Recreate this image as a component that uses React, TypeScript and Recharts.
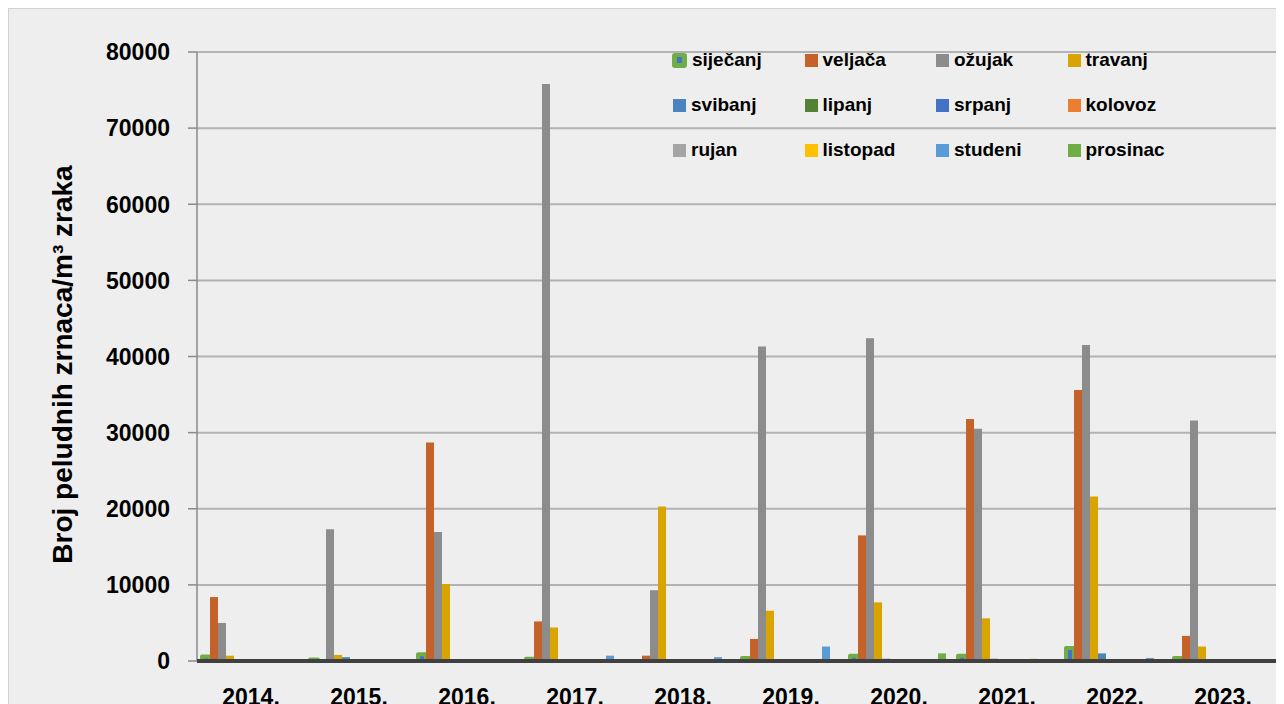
import React from 'react';
import { BarChart, Bar, XAxis, YAxis, CartesianGrid, Legend, Label } from 'recharts';

const years = ['2014.', '2015.', '2016.', '2017.', '2018.', '2019.', '2020.', '2021.', '2022.', '2023.'];

const sijecanj = [600, 200, 900, 300, 0, 400, 700, 700, 1700, 400];
const veljaca = [8400, 200, 28700, 5200, 700, 2900, 16500, 31800, 35600, 3300];
const ozujak = [5000, 17300, 16950, 75800, 9300, 41300, 42400, 30500, 41500, 31600];
const travanj = [700, 800, 10100, 4400, 20300, 6600, 7700, 5600, 21600, 1900];
const svibanj = [0, 500, 200, 0, 0, 0, 300, 300, 1000, 0];
const lipanj = [0, 0, 0, 0, 0, 0, 0, 0, 0, 0];
const srpanj = [0, 0, 0, 0, 0, 0, 0, 0, 0, 0];
const kolovoz = [0, 0, 0, 0, 0, 0, 0, 0, 0, 0];
const rujan = [0, 0, 0, 0, 0, 0, 0, 0, 0, 0];
const listopad = [0, 0, 0, 0, 0, 0, 0, 300, 0, 0];
const studeni = [0, 0, 0, 700, 500, 1900, 0, 0, 400, 0];
const prosinac = [0, 0, 0, 0, 200, 0, 1000, 0, 0, 0];

const yTicks = [0, 10000, 20000, 30000, 40000, 50000, 60000, 70000, 80000];

const seriesNames = ['siječanj', 'veljača', 'ožujak', 'travanj', 'svibanj', 'lipanj', 'srpanj', 'kolovoz', 'rujan', 'listopad', 'studeni', 'prosinac'];
const seriesValues = [sijecanj, veljaca, ozujak, travanj, svibanj, lipanj, srpanj, kolovoz, rujan, listopad, studeni, prosinac];
const seriesColors = ['#4472C4', '#C5622A', '#8C8C8C', '#D9A300', '#4A83BD', '#548235', '#4472C4', '#ED7D31', '#A5A5A5', '#FFC000', '#5B9BD5', '#70AD47'];

const data = years.map((y, i) => {
  const row: Record<string, any> = { year: y };
  seriesNames.forEach((n, s) => {
    row[n] = seriesValues[s][i];
  });
  return row;
});

const FONT = '"Liberation Sans", Arial, sans-serif';

const renderLegend = () => (
  <div style={{ position: 'relative', width: 600, height: 140, fontFamily: FONT }}>
    {seriesNames.map((n, i) => {
      const col = i % 4;
      const row = Math.floor(i / 4);
      const first = i === 0;
      return (
        <div
          key={n}
          style={{
            position: 'absolute',
            left: col * 131.5 + (first ? 7 : 8),
            top: row * 45,
            height: 30,
            display: 'flex',
            alignItems: 'center',
            whiteSpace: 'nowrap',
          }}
        >
          {first ? (
            <div
              style={{
                width: 15,
                height: 15,
                background: '#70AD47',
                borderRadius: 3,
                marginRight: 5,
                display: 'flex',
                alignItems: 'center',
                justifyContent: 'center',
              }}
            >
              <div style={{ width: 5, height: 6, background: '#4472C4' }} />
            </div>
          ) : (
            <div style={{ width: 13, height: 13, background: seriesColors[i], marginRight: 5 }} />
          )}
          <span style={{ fontSize: 19, fontWeight: 700, color: '#000' }}>{n}</span>
        </div>
      );
    })}
  </div>
);

const XTick = (props: any) => {
  const { x, y, payload } = props;
  return (
    <text x={x} y={y + 44} textAnchor="middle" fontFamily={FONT} fontSize={23} fontWeight={700} fill="#000">
      {payload.value}
    </text>
  );
};

const YTick = (props: any) => {
  const { y, payload } = props;
  return (
    <text x={161} y={y} dy="0.36em" textAnchor="end" fontFamily={FONT} fontSize={23} fontWeight={700} fill="#000">
      {payload.value}
    </text>
  );
};

export default function App() {
  return (
    <div>
      <style>{`html, body { overflow: hidden; }`}</style>
      <div
        style={{
          width: 1300,
          height: 720,
          background: '#EEEEEE',
          borderLeft: '1px solid #D2D2D2',
          borderTop: '1px solid #D2D2D2',
        }}
      >
        <BarChart
          width={1300}
          height={740}
          data={data}
          margin={{ top: 43, right: 32, bottom: 28, left: 0 }}
          barCategoryGap={5}
          barGap={0}
        >
          <CartesianGrid horizontal vertical={false} stroke="#B2B2B2" strokeWidth={2} />
          <YAxis
            width={188}
            domain={[0, 80000]}
            ticks={yTicks}
            interval={0}
            tick={<YTick />}
            tickSize={9}
            axisLine={{ stroke: '#8A8A8A', strokeWidth: 1.5 }}
            tickLine={{ stroke: '#8A8A8A', strokeWidth: 1.5 }}
          >
            <Label
              content={(p: any) => {
                const vb = p.viewBox || { y: 43, height: 609 };
                const cy = vb.y + vb.height / 2 + 8;
                return (
                  <text
                    x={53}
                    y={cy}
                    transform={`rotate(-90, 53, ${cy})`}
                    textAnchor="middle"
                    dominantBaseline="central"
                    fontFamily={FONT}
                    fontSize={28}
                    fontWeight={700}
                    fill="#000"
                  >
                    Broj peludnih zrnaca/m³ zraka
                  </text>
                );
              }}
            />
          </YAxis>
          <XAxis
            dataKey="year"
            height={60}
            tick={<XTick />}
            tickLine={false}
            tickSize={0}
            tickMargin={0}
            interval={0}
            axisLine={{ stroke: '#404040', strokeWidth: 4 }}
          />
          <Legend
            layout="vertical"
            align="center"
            verticalAlign="middle"
            content={renderLegend}
            wrapperStyle={{ position: 'absolute', left: 656, top: 36, width: 600, height: 140 }}
          />
          {seriesNames.map((n, i) => (
            <Bar
              key={n}
              dataKey={n}
              fill={seriesColors[i]}
              stroke={i === 0 ? '#70AD47' : undefined}
              strokeWidth={i === 0 ? 4 : 0}
              strokeLinejoin="round"
              isAnimationActive={false}
            />
          ))}
        </BarChart>
      </div>
    </div>
  );
}
